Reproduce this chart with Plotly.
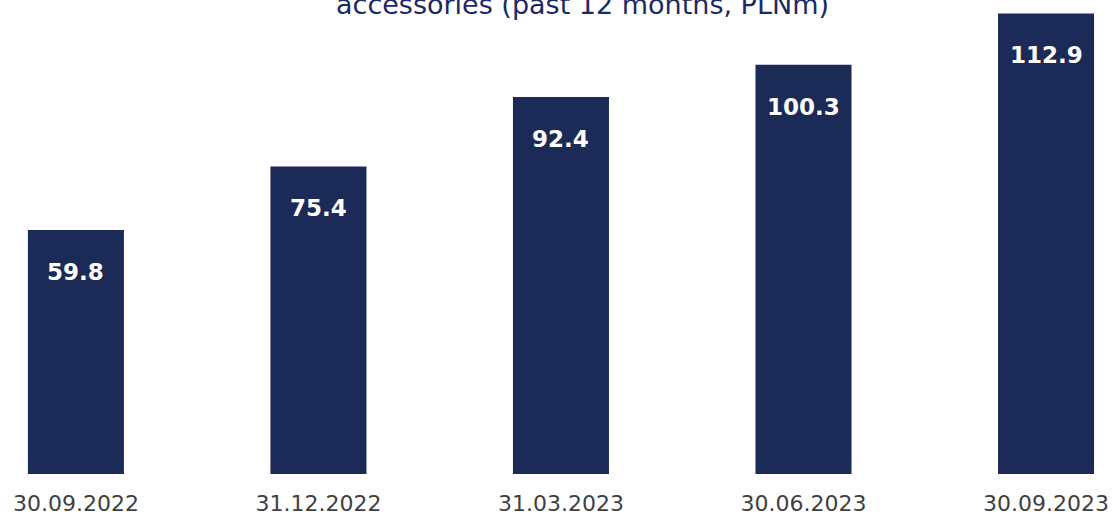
import plotly.graph_objects as go

categories = ["30.09.2022", "31.12.2022", "31.03.2023", "30.06.2023", "30.09.2023"]
values = [59.8, 75.4, 92.4, 100.3, 112.9]
labels = ["59.8", "75.4", "92.4", "100.3", "112.9"]
title_text = "accessories (past 12 months, PLNm)"

bar_color = "#1c2a57"
font_family = "DejaVu Sans, sans-serif"

fig = go.Figure()
fig.add_trace(go.Bar(x=list(range(len(categories))), y=values, marker_color=bar_color,
                     marker_line_width=0, hoverinfo="skip"))

for i, (v, t) in enumerate(zip(values, labels)):
    fig.add_annotation(x=i, y=v, text="<b>" + t + "</b>", showarrow=False, yshift=-42,
                       font=dict(family=font_family, size=23, color="white"), yanchor="middle")

fig.add_annotation(xref="paper", yref="paper", x=0.524, y=1.0, yshift=-4,
                   text=title_text, showarrow=False, yanchor="middle",
                   font=dict(family=font_family, size=27, color="#1b2a66"))

fig.update_layout(
    width=1112, height=516,
    margin=dict(l=0, r=0, t=0, b=42),
    plot_bgcolor="white", paper_bgcolor="white",
    bargap=0.604, showlegend=False,
    xaxis=dict(range=[-0.313, 4.272], tickmode="array", tickvals=list(range(len(categories))),
               ticktext=categories, showgrid=False, zeroline=False, showline=False,
               tickfont=dict(family=font_family, size=22, color="#404040"), ticklen=0,
               ticklabelstandoff=14),
    yaxis=dict(range=[0, 116.2], visible=False),
)

fig.write_html("out.html")
